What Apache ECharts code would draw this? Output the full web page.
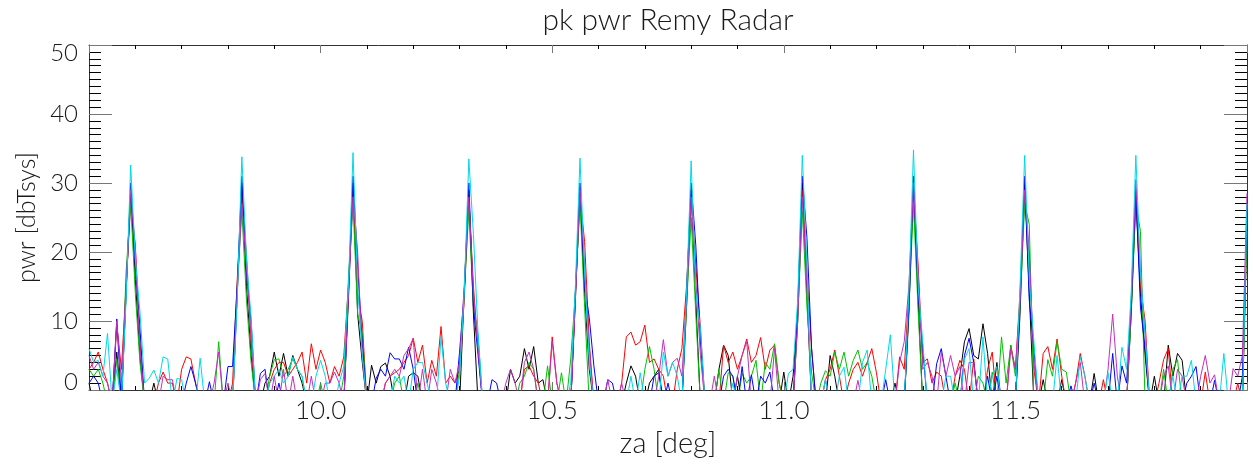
<!DOCTYPE html>
<html>
<head>
<meta charset="utf-8">
<script src="https://cdn.jsdelivr.net/npm/echarts@6/dist/echarts.min.js"></script>
<style>
html,body{margin:0;padding:0;background:#fff;}
#chart{width:1253px;height:464px;}
</style>
</head>
<body>
<div id="chart"></div>
<script>
// za sample positions [deg]
const za = [
9.50,9.51,9.52,9.53,9.54,9.55,9.56,9.57,9.58,9.59,
9.60,9.61,9.62,9.63,9.64,9.65,9.66,9.67,9.68,9.69,
9.70,9.71,9.72,9.73,9.74,9.75,9.76,9.77,9.78,9.79,
9.80,9.81,9.82,9.83,9.84,9.85,9.86,9.87,9.88,9.89,
9.90,9.91,9.92,9.93,9.94,9.95,9.96,9.97,9.98,9.99,
10.00,10.01,10.02,10.03,10.04,10.05,10.06,10.07,10.08,10.09,
10.10,10.11,10.12,10.13,10.14,10.15,10.16,10.17,10.18,10.19,
10.20,10.21,10.22,10.23,10.24,10.25,10.26,10.27,10.28,10.29,
10.30,10.31,10.32,10.33,10.34,10.35,10.36,10.37,10.38,10.39,
10.40,10.41,10.42,10.43,10.44,10.45,10.46,10.47,10.48,10.49,
10.50,10.51,10.52,10.53,10.54,10.55,10.56,10.57,10.58,10.59,
10.60,10.61,10.62,10.63,10.64,10.65,10.66,10.67,10.68,10.69,
10.70,10.71,10.72,10.73,10.74,10.75,10.76,10.77,10.78,10.79,
10.80,10.81,10.82,10.83,10.84,10.85,10.86,10.87,10.88,10.89,
10.90,10.91,10.92,10.93,10.94,10.95,10.96,10.97,10.98,10.99,
11.00,11.01,11.02,11.03,11.04,11.05,11.06,11.07,11.08,11.09,
11.10,11.11,11.12,11.13,11.14,11.15,11.16,11.17,11.18,11.19,
11.20,11.21,11.22,11.23,11.24,11.25,11.26,11.27,11.28,11.29,
11.30,11.31,11.32,11.33,11.34,11.35,11.36,11.37,11.38,11.39,
11.40,11.41,11.42,11.43,11.44,11.45,11.46,11.47,11.48,11.49,
11.50,11.51,11.52,11.53,11.54,11.55,11.56,11.57,11.58,11.59,
11.60,11.61,11.62,11.63,11.64,11.65,11.66,11.67,11.68,11.69,
11.70,11.71,11.72,11.73,11.74,11.75,11.76,11.77,11.78,11.79,
11.80,11.81,11.82,11.83,11.84,11.85,11.86,11.87,11.88,11.89,
11.90,11.91,11.92,11.93,11.94,11.95,11.96,11.97,11.98,11.99,
12.00];

// pk pwr [dbTsys] per trace (values below 0 fall under the axis)
const pwrBlack = [
1,-2,-2,-2,-2,-2,5.5,-2,14,29,
16,5,-2,-2,1,-2,-2,-2,-2,-2,
-2,-2,-2,-2,-2,-2,-2,-2,-2,-2,
-2,-2,14,30,15,5,-2,-2,1,2,
5.5,2,5.3,2,5,3,1,-2,-2,-2,
-2,-2,-2,-2,-2,-2,13,30,11,4,
-2,3.6,1,3.4,3.9,2,-2,-2,-2,2,
2.5,2,-2,-2,-2,-2,-2,-2,-2,-2,
-2,14,29,11,-2,-2,-2,-2,-2,-2,
-2,3,1,2,6,3,6.3,1,1.5,-2,
-2,-2,-2,-2,-2,13,29,14,3,-2,
-2,-2,-2,-2,-2,-2,1,3.5,2,-2,
-2,1,2,3,-2,-2,-2,-2,-2,12,
29,13,-2,-2,-2,-2,3,6.5,5,-2,
2,-2,-2,-2,-2,-2,-2,-2,-2,-2,
2.6,-2,2,11,30,14,-2,-2,-2,-2,
5,2,-2,-2,-2,-2,-2,-2,-2,-2,
-2,-2,-2,-2,1,-2,-2,11,30,13,
-2,-2,-2,-2,-2,-2,-2,-2,2,7,
8.9,5,4.5,9.6,5.3,-2,4,-2,-2,-2,
-2,11,30,14,-2,-2,1.5,-2,-2,-2,
1.5,-2,-2,-2,-2,-2,-2,2.4,-2,-2,
-2,-2,-2,-2,-2,11,28,14,5,-2,
2,-2,-2,6.5,2,5.3,4.3,-2,-2,-2,
-2,-2,-2,-2,-2,-2,-2,-2,-2,-2,
24];

const pwrRed = [
3,4,5.5,3,1,-2,9.5,3,15,27,
21,7,-2,-2,-2,1,2.6,1,1,-2,
3,4.8,4.5,1,-2,-2,-2,-2,-2,-2,
-2,1,16,28,19.5,7,-2,-2,-2,1,
3,4,4,2,3,4,5.5,1,6.7,3,
5.8,4,1,3.4,2,4.8,15,29,14,9.9,
-2,-2,-2,-2,1,2,2.5,3,4,5,
7.5,4,6.5,1,4.3,2,9.2,1,2,1,
3,13,28,15,6,-2,-2,-2,-2,-2,
-2,-2,-2,-2,3,3.5,2,1,-2,-2,
7.7,1,-2,-2,-2,14,28,21.5,7,-2,
-2,-2,-2,-2,-2,1,7.7,8.4,6.5,7,
9.4,4,4.5,3,2,-2,-2,3,6,15,
28,18,9,-2,-2,-2,-2,6.5,4,5.5,
3,5,7.4,4,5,7.6,3,5.8,6.5,1,
-2,-2,-2,10,29,17,6,-2,-2,1.5,
3,5.8,2,-2,1,3,4,2,4,6,
2.5,-2,-2,-2,-2,4.8,3,14,29,18,
4,4.5,1,2.6,2,-2,-2,2,4.3,3,
-2,4.5,-2,-2,3,5.5,-2,-2,-2,6.5,
3,14,28,19,3,-2,5.3,6.3,3,7.4,
2,-2,-2,1,5.3,2,-2,-2,-2,1.5,
-2,-2,-2,-2,-2,12,28.5,15,10,-2,
-2,1,4.4,6,-2,-2,-2,-2,-2,-2,
-2,2.6,-2,-2,-2,-2,-2,-2,1,-2,
25];

const pwrGreen = [
3,2,3,1,-2,-2,4.5,-2,17,27,
14,4,-2,-2,-2,-2,-2,-2,-2,-2,
-2,-2,-2,-2,-2,-2,-2,-2,7,-2,
-2,-2,15,26,13,4,-2,-2,-2,2,
4.4,4.5,2,3,4.5,3,2,-2,-2,-2,
1,-2,-2,-2,-2,2,16,27,11,8.2,
-2,-2,-2,-2,-2,-2,1,2,-2,-2,
-2,1,-2,-2,-2,-2,-2,-2,-2,-2,
3,14,26,12,8,-2,-2,-2,-2,-2,
-2,-2,-2,1,2,4,3,-2,-2,3.5,
-2,-2,2.5,-2,4.5,14,27,12,-2,-2,
-2,-2,-2,-2,-2,-2,-2,-2,-2,-2,
3,6.3,3,-2,-2,-2,-2,-2,-2,12,
25,11,-2,-2,-2,-2,3,-2,2.5,2,
-2,2.4,1,2,4.3,-2,4,3,6.7,1,
-2,-2,-2,10,26,12,2.5,-2,1,2.8,
2,5.5,3,5.5,2,4.3,5.8,3,4,2,
-2,-2,-2,-2,-2,-2,-2,12,27,11.5,
-2,-2,-2,-2,-2,-2,-2,1,-2,-2,
-2,-2,2,1,-2,2.6,-2,7.7,1,6.5,
2,12,27,24,-2,-2,-2,4.4,2,7,
3,2.6,-2,-2,-2,-2,-2,-2,-2,-2,
-2,-2,-2,-2,-2,11,27,23,-2,-2,
-2,-2,3,-2,3,4.4,-2,-2,-2,-2,
-2,-2,-2,-2,-2,-2,-2,-2,-2,-2,
23];

const pwrBlue = [
1,2,1,-2,-2,-2,10.3,-2,14,30,
18,9,-2,-2,-2,-2,-2,-2,-2,-2,
-2,1,3.4,1,-2,-2,1.2,-2,-2,-2,
3.4,3.4,15,31,17,10,-2,2.4,3,-2,
-2,1,-2,-2,-2,-2,-2,-2,-2,-2,
-2,-2,-2,-2,-2,-2,14,31,18,6.7,
-2,-2,1.7,3,2,5.4,4.5,4.5,3,6.2,
3,-2,-2,-2,-2,-2,-2,-2,-2,-2,
5.5,14,30,12,5,-2,-2,1.5,1,-2,
-2,-2,-2,-2,-2,-2,-2,-2,-2,-2,
-2,-2,-2,-2,-2,14,30,15,10.5,3.5,
-2,-2,1.5,1,-2,-2,-2,-2,-2,-2,
-2,-2,2,2.5,-2,1,-2,-2,-2,14,
30,21,7,-2,-2,-2,-2,2,3,2,
-2,3.4,-2,2.2,-2,2,1,2.6,-2,-2,
-2,-2,-2,12,31,22,6,-2,-2,-2,
-2,-2,-2,-2,-2,-2,-2,-2,-2,-2,
-2,-2,1.5,-2,-2,-2,-2,12,31,14,
6,-2,-2,3.8,6,2,-2,-2,-2,5,
7.5,4,-2,-2,2,-2,2,-2,-2,-2,
-2,13,31,13,5.8,-2,-2,-2,-2,-2,
-2,-2,0.6,-2,-2,-2,-2,1,-2,-2,
-2,5.3,-2,3.5,1,12,29,12,6,-2,
-2,-2,-2,-2,-2,-2,-2,1,2,3.4,
-2,-2,-2,1.4,-2,-2,-2,-2,-2,2,
26];

const pwrCyan = [
6,4,4.3,2,8.2,-2,3,-2,13,32.6,
19,11.3,1,1.7,2.9,1,4.8,4.5,-2,1.7,
1.5,-2,-2,-2,4.6,-2,-2,-2,-2,-2,
-2,-2,13,33.8,19,10.4,-2,-2,-2,1,
2,3,1,2,4.8,3,2,-2,-2,2,
4.3,2,-2,-2,1,3.4,15,34.4,15,5,
-2,-2,-2,-2,-2,-2,2,1,2,-2,
3,4,4,1,-2,-2,7.7,1,-2,-2,
2,14,33.5,22.5,8,-2,-2,-2,-2,-2,
-2,-2,-2,-2,-2,-2,-2,-2,-2,-2,
-2,-2,-2,-2,1,15,33.6,17,4,-2,
-2,-2,-2,-2,-2,-2,-2,2,-2,2.5,
-2,-2,-2,-2,5.5,2,4,2,-2,14,
33.2,14,9,-2,-2,-2,-2,-2,-2,1,
-2,-2,-2,-2,-2,-2,-2,-2,-2,-2,
-2,2.4,3,13,34,18,-2,-2,-2,1.5,
-2,-2,2,3.3,-2,-2,-2,4,5.8,-2,
-2,-2,3,8,-2,-2,-2,14,34.8,15,
7,-2,-2,-2,-2,2,2,-2,-2,4.5,
6,-2,-2,7.7,-2,2,3.4,-2,-2,-2,
-2,15,34,16,7,-2,-2,-2,-2,5,
-2,-2,-2,-2,4.8,2,-2,-2,-2,-2,
2.5,-2,-2,6.2,3,14,34,17,8,-2,
-2,-2,-2,-2,2,-2,2,2,4.3,-2,
-2,-2,-2,-2,-2,5.3,-2,-2,-2,-2,
27];

const pwrMagenta = [
5,3,4,2,1,-2,10,1,15,29,
20.5,6,-2,-2,-2,-2,2,1.5,1.5,-2,
-2,-2,-2,-2,-2,-2,-2,1,5.5,-2,
1,-2,14,27,18,8,-2,1.5,2.4,-2,
2,-2,3,-2,2,-2,-2,-2,2,-2,
-2,1,1,2.6,1,-2,14,28,20,5,
-2,-2,-2,-2,1,2,3,2,5,6,
7.5,-2,3,-2,3,1,-2,-2,3,1,
4,15,28,14,6,-2,-2,-2,-2,-2,
1,3,1,-2,4,5.5,3,-2,-2,-2,
7,1,-2,-2,-2,13,29,18,6,-2,
-2,-2,1.5,-2,-2,1,-2,-2,-2,-2,
-2,-2,-2,2,7.3,2,4,4.6,2,13,
28,16,5,-2,-2,2,-2,-2,-2,-2,
2,5,7,-2,-2,-2,-2,-2,6,-2,
-2,-2,-2,10,28,15,-2,-2,-2,1.5,
-2,-2,-2,-2,-2,-2,1.4,-2,-2,-2,
-2,-2,-2,-2,-2,4,7,15,30,17,
3,4,2,-2,5.5,2,5,2,3.4,-2,
4,4,-2,-2,-2,-2,-2,-2,-2,6,
3,13,29,20,4,-2,-2,-2,-2,-2,
-2,-2,-2,1,4,-2,-2,-2,-2,-2,
3,11,2,-2,-2,13,30.5,17,8,-2,
-2,-2,2,3.5,-2,3,2,-2,-2,-2,
2,5,1,2.2,-2,-2,-2,3.1,2,5,
28.5];

const titleText = 'pk pwr Remy Radar';
const xName = 'za [deg]';
const yName = 'pwr [dbTsys]';

const traces = [
  {name: 'black', color: '#000000', data: pwrBlack},
  {name: 'red', color: '#ff0000', data: pwrRed},
  {name: 'green', color: '#00c000', data: pwrGreen},
  {name: 'blue', color: '#0000ff', data: pwrBlue},
  {name: 'magenta', color: '#c030c0', data: pwrMagenta},
  {name: 'cyan', color: '#00d8e8', data: pwrCyan}
];

const FONT = 'Lato';
const FW = 300;
const TXT = '#1a1a1a';
const chart = echarts.init(document.getElementById('chart'));

function xAxisCfg(pos) {
  const bottom = pos === 'bottom';
  return {
    type: 'value', position: pos, min: 9.5, max: 12, interval: 0.5,
    axisLine: {show: true, onZero: false, lineStyle: {color: '#333', width: 1}},
    axisTick: {show: true, inside: true, length: 8, lineStyle: {color: '#777', width: 1}},
    minorTick: {show: true, splitNumber: 5, length: 4, lineStyle: {color: '#000', width: 1}},
    splitLine: {show: false}, minorSplitLine: {show: false},
    axisLabel: {show: bottom, showMinLabel: false, showMaxLabel: false,
      formatter: v => v.toFixed(1), fontSize: 26, fontWeight: FW, color: TXT, margin: 8, fontFamily: FONT},
    name: bottom ? xName : '', nameLocation: 'middle', nameGap: 33,
    nameTextStyle: {fontSize: 29, fontWeight: FW, color: TXT, fontFamily: FONT}
  };
}
function yAxisCfg(pos) {
  const left = pos === 'left';
  const base = {fontSize: 24, fontWeight: FW, color: TXT, fontFamily: FONT};
  return {
    type: 'value', position: pos, min: 0, max: 50, interval: 10,
    axisLine: {show: true, onZero: false, lineStyle: {color: '#333', width: 1}},
    axisTick: {show: true, inside: true, length: 23, lineStyle: {color: '#777', width: 1}},
    minorTick: {show: true, splitNumber: 10, length: 12, lineStyle: {color: '#000', width: 1}},
    splitLine: {show: false}, minorSplitLine: {show: false},
    axisLabel: Object.assign({show: left, margin: 11,
      formatter: v => v === 0 ? '{lo|0}' : (v === 50 ? '{hi|50}' : '{n|' + v + '}'),
      rich: {
        lo: Object.assign({padding: [0, 0, 16, 0]}, base),
        hi: Object.assign({padding: [17, 0, 0, 0]}, base),
        n: Object.assign({}, base)
      }}, base),
    name: left ? yName : '', nameLocation: 'middle', nameGap: 43, nameRotate: 90,
    nameTextStyle: {fontSize: 25, fontWeight: FW, color: TXT, fontFamily: FONT}
  };
}

chart.setOption({
  animation: false,
  backgroundColor: '#fff',
  grid: {left: 89, right: 6, top: 45, bottom: 74, containLabel: false},
  xAxis: [xAxisCfg('bottom'), xAxisCfg('top')],
  yAxis: [yAxisCfg('left'), yAxisCfg('right')],
  graphic: [{
    type: 'text', x: 668, y: 20,
    style: {text: titleText, fontSize: 30, fontWeight: FW, fill: TXT, fontFamily: FONT,
      align: 'center', verticalAlign: 'middle', textAlign: 'center', textVerticalAlign: 'middle'}
  }],
  series: traces.map(t => ({
    type: 'line', name: t.name, xAxisIndex: 0, yAxisIndex: 0,
    data: za.map((x, i) => [x, t.data[i]]),
    showSymbol: false, symbol: 'none', clip: true,
    lineStyle: {color: t.color, width: 1},
    itemStyle: {color: t.color}
  }))
});
</script>
</body>
</html>
